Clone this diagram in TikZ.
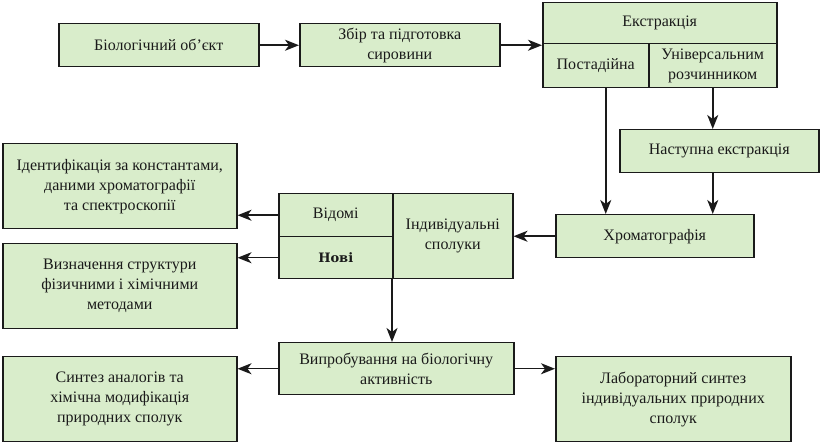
\documentclass[tikz,border=0pt]{standalone}
\usepackage{fontspec}
\setmainfont{Liberation Serif}
\newfontfamily\novifont{DejaVu Serif}
\usetikzlibrary{arrows.meta,calc}
\definecolor{boxfill}{HTML}{D9EDCB}
\definecolor{txt}{HTML}{1A1A1A}
\definecolor{edge}{HTML}{1A1A1A}
\begin{document}
\begin{tikzpicture}[x=1pt,y=-1pt,
  box/.style={draw=edge, line width=1.5pt, fill=boxfill, text=txt, inner sep=0pt,
    align=center, anchor=north west, font=\fontsize{16}{20}\selectfont},
  arr/.style={draw=edge, line width=1.5pt, -{Stealth[length=14pt,width=11pt,inset=4pt]}}]
\useasboundingbox (0,0) rectangle (820,443);
% top row
\node[box, minimum width=200pt, minimum height=43pt] (bio) at (58,23) {Біологічний об\char"27 єкт};
\node[box, minimum width=200pt, minimum height=43pt] (zbir) at (299,23) {Збір та підготовка\\сировини};
\node[box, minimum width=234pt, minimum height=41pt] (ext) at (542,2) {Екстракція};
\node[box, minimum width=106pt, minimum height=44pt] (post) at (542,43) {Постадійна};
\node[box, minimum width=128pt, minimum height=44pt] (univ) at (648,43) {Універсальним\\розчинником};
\node[box, minimum width=199pt, minimum height=43pt] (nast) at (619,129) {Наступна екстракція};
\node[box, minimum width=198pt, minimum height=43pt] (chrom) at (555,214) {Хроматографія};
% individual compounds
\node[box, minimum width=114pt, minimum height=43pt] (vid) at (278,193) {Відомі};
\node[box, minimum width=114pt, minimum height=42pt, font=\novifont\bfseries\fontsize{13}{16}\selectfont] (novi) at (278,236) {Нові};
\node[box, minimum width=120pt, minimum height=85pt] (ind) at (392,193) {Індивідуальні\\сполуки};
% left boxes
\node[box, minimum width=234pt, minimum height=85pt] (ident) at (2,143) {Ідентифікація за константами,\\даними хроматографії\\та спектроскопії};
\node[box, minimum width=234pt, minimum height=85pt] (vyz) at (2,243) {Визначення структури\\фізичними і хімічними\\методами};
% bottom row
\node[box, minimum width=235pt, minimum height=52pt] (vyp) at (278,342) {Випробування на біологічну\\активність};
\node[box, minimum width=234pt, minimum height=85pt] (syn) at (2,356) {Синтез аналогів та\\хімічна модифікація\\природних сполук};
\node[box, minimum width=235pt, minimum height=85pt] (lab) at (555,356) {Лабораторний синтез\\індивідуальних природних\\сполук};
% connectors
\draw[arr] (bio.east) -- (bio.east -| zbir.west);
\draw[arr] (zbir.east) -- (zbir.east -| post.west);
\draw[arr] ([xshift=10pt]post.south) -- ([xshift=10pt]post.south |- chrom.north);
\draw[arr] (univ.south) -- (univ.south |- nast.north);
\draw[arr] (nast.south -| univ.south) -- (univ.south |- chrom.north);
\draw[arr] (chrom.west) -- (chrom.west -| ind.east);
\draw[arr] (vid.west) -- (vid.west -| ident.east);
\draw[arr] (novi.west) -- (novi.west -| vyz.east);
\draw[arr] (ind.south west) -- (ind.south west |- vyp.north);
\draw[arr] (vyp.west) -- (vyp.west -| syn.east);
\draw[arr] (vyp.east) -- (vyp.east -| lab.west);
\end{tikzpicture}
\end{document}
